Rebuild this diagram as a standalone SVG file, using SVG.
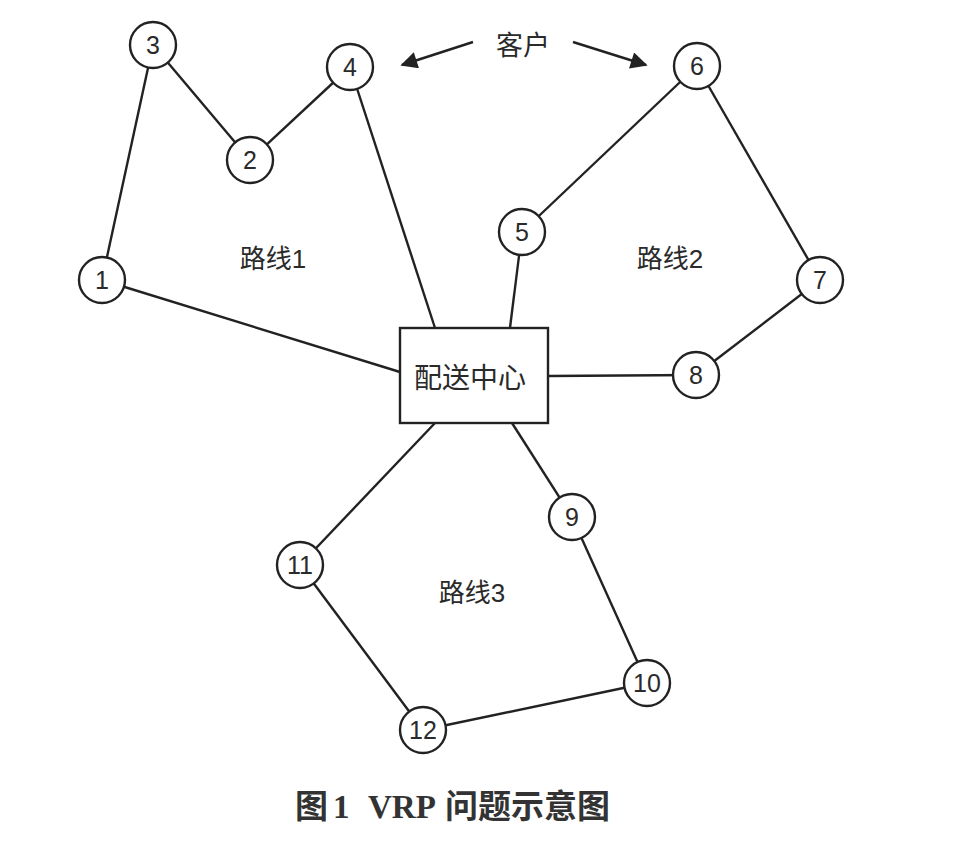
<svg xmlns="http://www.w3.org/2000/svg" width="953" height="844" viewBox="0 0 953 844">
<style>
.n circle{fill:#fff;stroke:#222;stroke-width:2.4}
.n text,.lbl{font-family:"Liberation Sans","Noto Sans CJK SC",sans-serif;fill:#2a2a2a;text-anchor:middle;dominant-baseline:central}
.n text{font-size:25px}
.lbl{font-size:26px}
#edges line{stroke:#222;stroke-width:2.4}
.cap{font-family:"Liberation Serif","Noto Sans CJK SC",serif;font-weight:bold;font-size:33px;fill:#333}
</style>
<defs>
<marker id="ah" viewBox="0 0 10 10" refX="9" refY="5" markerWidth="8" markerHeight="7" markerUnits="strokeWidth" orient="auto">
<path d="M0,0 L10,5 L0,10 Z" fill="#222"/>
</marker>
</defs>
<rect width="953" height="844" fill="#fff"/>
<g id="edges">
<line x1="153" y1="45" x2="102" y2="280"/>
<line x1="153" y1="45" x2="250" y2="160"/>
<line x1="250" y1="160" x2="350" y2="67"/>
<line x1="350" y1="67" x2="435" y2="328"/>
<line x1="102" y1="280" x2="400" y2="372"/>
<line x1="522" y1="232" x2="697" y2="66"/>
<line x1="697" y1="66" x2="820" y2="280"/>
<line x1="820" y1="280" x2="696" y2="375"/>
<line x1="696" y1="375" x2="548" y2="376"/>
<line x1="522" y1="232" x2="510" y2="328"/>
<line x1="435" y1="423" x2="300" y2="565"/>
<line x1="512" y1="423" x2="572" y2="517"/>
<line x1="572" y1="517" x2="647" y2="683"/>
<line x1="300" y1="565" x2="423" y2="730"/>
<line x1="423" y1="730" x2="647" y2="683"/>
<line x1="473" y1="42" x2="402" y2="65" marker-end="url(#ah)"/>
<line x1="573" y1="42" x2="646" y2="65" marker-end="url(#ah)"/>
</g>
<g id="depot">
<rect x="400" y="328" width="148" height="95" fill="#fff" stroke="#222" stroke-width="2.4"/>
<text class="lbl" x="470" y="378" style="font-size:28px">配送中心</text>
</g>
<g id="n1" class="n"><circle cx="102" cy="280" r="23"/><text x="102" y="280">1</text></g>
<g id="n2" class="n"><circle cx="250" cy="160" r="23"/><text x="250" y="160">2</text></g>
<g id="n3" class="n"><circle cx="153" cy="45" r="23"/><text x="153" y="45">3</text></g>
<g id="n4" class="n"><circle cx="350" cy="67" r="23"/><text x="350" y="67">4</text></g>
<g id="n5" class="n"><circle cx="522" cy="232" r="23"/><text x="522" y="232">5</text></g>
<g id="n6" class="n"><circle cx="697" cy="66" r="23"/><text x="697" y="66">6</text></g>
<g id="n7" class="n"><circle cx="820" cy="280" r="23"/><text x="820" y="280">7</text></g>
<g id="n8" class="n"><circle cx="696" cy="375" r="23"/><text x="696" y="375">8</text></g>
<g id="n9" class="n"><circle cx="572" cy="517" r="23"/><text x="572" y="517">9</text></g>
<g id="n10" class="n"><circle cx="647" cy="683" r="23"/><text x="647" y="683">10</text></g>
<g id="n11" class="n"><circle cx="300" cy="565" r="23"/><text x="300" y="565">11</text></g>
<g id="n12" class="n"><circle cx="423" cy="730" r="23"/><text x="423" y="730">12</text></g>
<g id="labels">
<text class="lbl" x="273" y="259">路线1</text>
<text class="lbl" x="670" y="259">路线2</text>
<text class="lbl" x="472" y="593">路线3</text>
<text class="lbl" x="523" y="46" style="font-size:27px">客户</text>
</g>
<text class="cap" x="295" y="818">图<tspan x="333">1</tspan> <tspan x="368">VRP</tspan><tspan x="445">问题示意图</tspan></text>
</svg>
